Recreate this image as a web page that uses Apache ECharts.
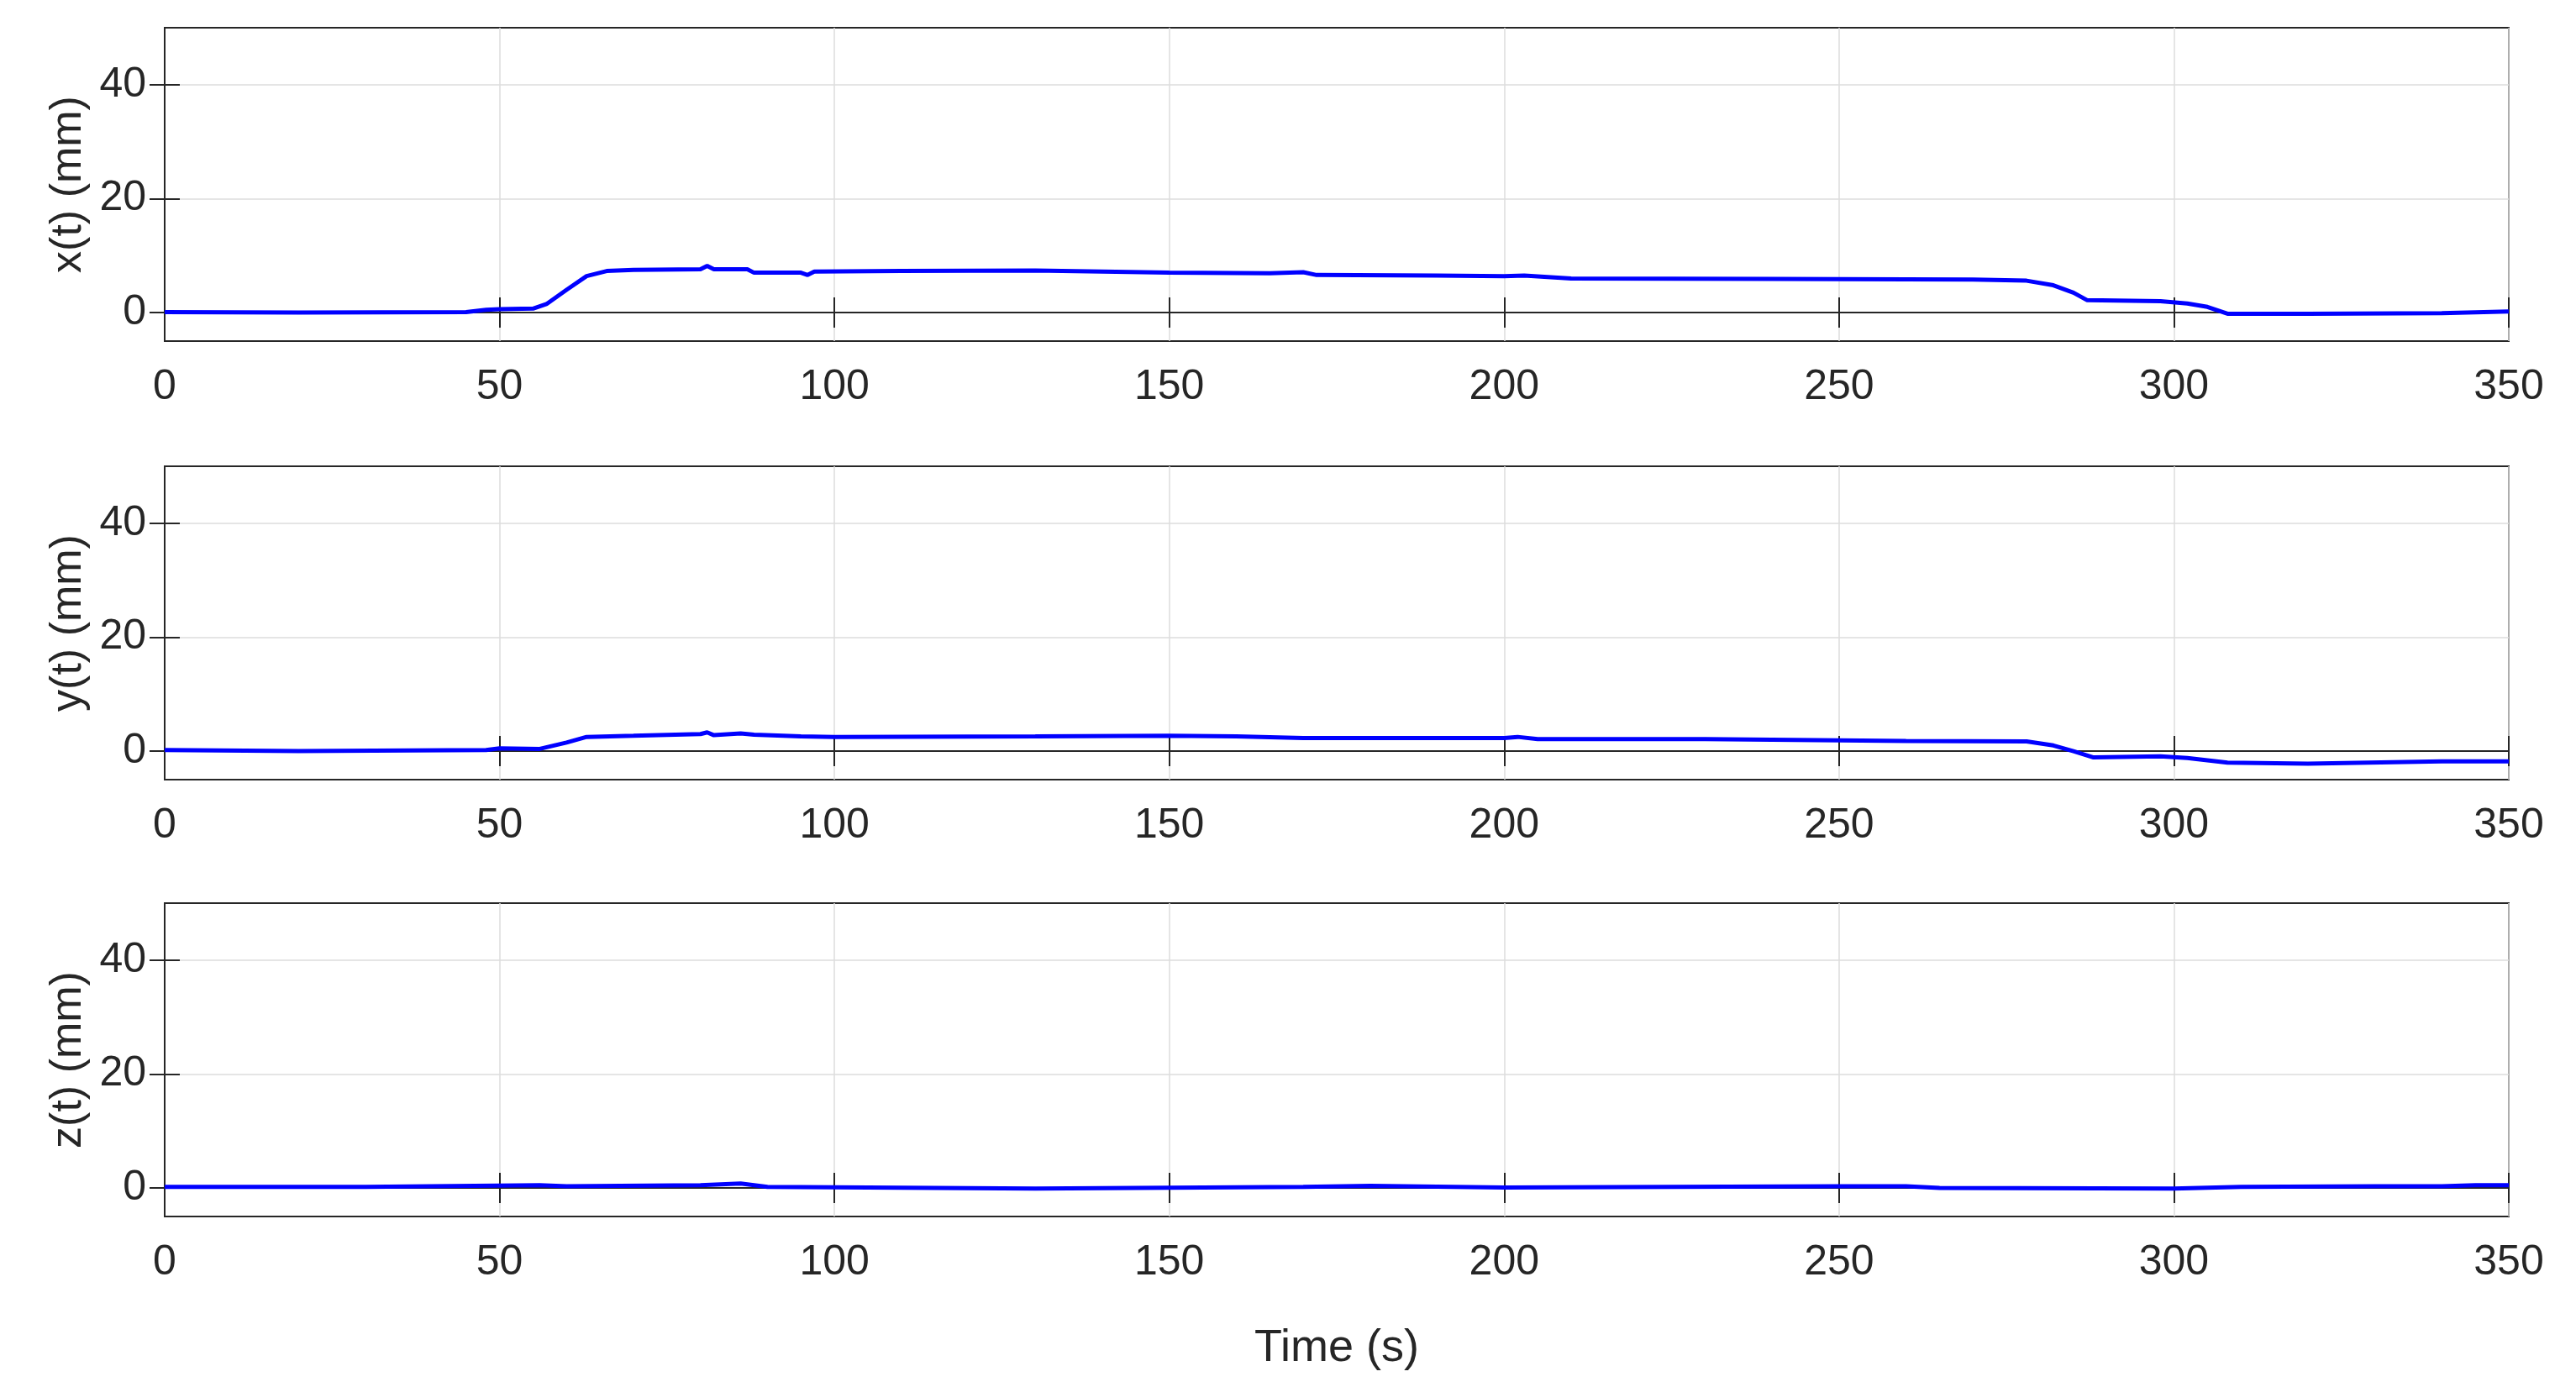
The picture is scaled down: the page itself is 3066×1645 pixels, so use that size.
<!DOCTYPE html>
<html>
<head>
<meta charset="utf-8">
<style>
  html, body { margin: 0; padding: 0; background: #fff; }
  #main { width: 3066px; height: 1645px; }
</style>
<script src="https://cdn.jsdelivr.net/npm/echarts@6/dist/echarts.min.js"></script>
</head>
<body>
<div id="main"></div>
<script>
// time (s) / value (mm) pairs
const xTrace = [[0,0.1],[20,0],[45,0.1],[48,0.5],[50,0.6],[55,0.7],[57,1.5],[60,4],[63,6.4],[66,7.3],[70,7.5],[80,7.6],[81,8.2],[82,7.6],[87,7.6],[88,7.0],[95,7.0],[96,6.6],[97,7.2],[110,7.3],[130,7.4],[150,7.0],[165,6.9],[170,7.1],[172,6.6],[190,6.5],[200,6.4],[203,6.5],[210,6.0],[240,5.9],[270,5.8],[278,5.6],[282,4.8],[285,3.5],[287,2.2],[298,2.0],[302,1.6],[305,1.0],[308,-0.2],[320,-0.2],[340,-0.1],[350,0.2]];
const yTrace = [[0,0.2],[20,0],[48,0.2],[50,0.5],[56,0.4],[60,1.5],[63,2.5],[70,2.7],[80,3.0],[81,3.3],[82,2.8],[86,3.1],[88,2.9],[95,2.6],[100,2.5],[130,2.6],[150,2.7],[160,2.6],[170,2.3],[200,2.3],[202,2.5],[205,2.1],[230,2.1],[260,1.8],[278,1.7],[282,1.0],[285,0],[288,-1.1],[298,-0.9],[302,-1.2],[308,-2.0],[320,-2.2],[340,-1.8],[350,-1.8]];
const zTrace = [[0,0.2],[30,0.2],[56,0.5],[60,0.3],[80,0.5],[86,0.8],[90,0.2],[130,-0.1],[170,0.2],[180,0.4],[200,0.1],[250,0.3],[260,0.3],[265,0],[300,-0.1],[310,0.2],[330,0.3],[340,0.3],[345,0.5],[350,0.5]];
const yNames = ["x(t) (mm)", "y(t) (mm)", "z(t) (mm)"];
const xTicks = [0, 50, 100, 150, 200, 250, 300, 350];
const yTicks = [0, 20, 40];

const traces = [xTrace, yTrace, zTrace];
const font = "'Liberation Sans Narrow', 'Liberation Sans', Arial, sans-serif";
const ink = "#262626";
const tops = [33, 555, 1075];

let grid = [], xAxis = [], yAxis = [], series = [];
tops.forEach((top, i) => {
  grid.push({ left: 196, width: 2790, top: top, height: 373, show: true, borderColor: ink, borderWidth: 2 });
  const base = {
    gridIndex: i, type: "value", min: 0, max: 350, interval: 50,
    axisLine: { show: true, lineStyle: { color: ink, width: 2 } },
    axisTick: { show: true, inside: true, length: 18, lineStyle: { color: ink, width: 2 } },
    splitLine: { show: false }
  };
  xAxis.push(Object.assign({}, base, {
    position: "bottom",
    axisLabel: { color: ink, fontSize: 50, fontFamily: font, margin: 30 },
    splitLine: { show: true, lineStyle: { color: "#dcdcdc", width: 1.5 } },
    name: i === 2 ? "Time (s)" : "", nameLocation: "middle", nameGap: 130,
    nameTextStyle: { color: ink, fontSize: 54, fontFamily: font }
  }));
  xAxis.push(Object.assign({}, base, { position: "top", axisLabel: { show: false } }));
  const ybase = {
    gridIndex: i, type: "value", min: -5, max: 50,
    axisLine: { show: true, lineStyle: { color: ink, width: 2 } },
    axisTick: { show: true, inside: true, length: 18, lineStyle: { color: ink, width: 2 },
      customValues: yTicks },
    splitLine: { show: false }
  };
  yAxis.push(Object.assign({}, ybase, {
    position: "left",
    axisLabel: { color: ink, fontSize: 50, fontFamily: font, margin: 22, customValues: yTicks },
    splitLine: { show: true, lineStyle: { color: "#dcdcdc", width: 1.5 }, customValues: yTicks },
    name: yNames[i], nameLocation: "middle", nameGap: 88, nameRotate: 90,
    nameTextStyle: { color: ink, fontSize: 52, fontFamily: font }
  }));
  yAxis.push(Object.assign({}, ybase, { position: "right", axisLabel: { show: false } }));
  series.push({
    type: "line", xAxisIndex: 2 * i, yAxisIndex: 2 * i, data: traces[i],
    showSymbol: false, lineStyle: { color: "#0000ff", width: 5 }, z: 5
  });
});

let myChart = echarts.init(document.getElementById("main"));
myChart.setOption({ animation: false, backgroundColor: "#fff", grid, xAxis, yAxis, series });
</script>
</body>
</html>
